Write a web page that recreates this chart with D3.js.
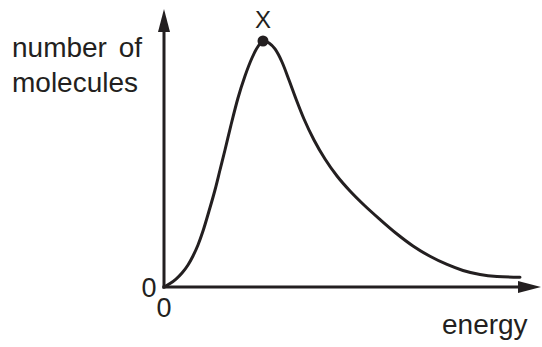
<!DOCTYPE html>
<html>
<head>
<meta charset="utf-8">
<script src="https://cdn.jsdelivr.net/npm/d3@7"></script>
<style>
    body { margin: 0; background: #fff; }
    text { font-family: "Liberation Sans", Arial, Helvetica, sans-serif; fill: #231f20; }
</style>
</head>
<body>
<div id="chart"></div>
<script>
// values (energy vs number of molecules, peak = 100)
const energy    = [0, 1.6, 3.19, 4.79, 6.38, 7.71, 9.04, 10.37, 11.97, 13.56, 14.89, 16.22, 17.82, 19.68, 21.54, 23.4, 25, 26.33,
                   27.93, 29.52, 31.38, 33.24, 35.11, 37.23, 39.89, 42.82, 46.01, 49.47, 53.19, 57.45, 61.97, 66.22, 70.74, 75.27, 79.52, 84.04, 88.56, 94.68];
const molecules = [0, 1.42, 3.25, 5.69, 8.94, 12.6, 17.07, 22.76, 30.89, 39.43, 47.56, 55.69, 65.85, 76.83, 85.77, 93.09, 97.76, 100,
                   99.19, 96.75, 91.46, 84.15, 76.42, 68.29, 59.76, 52.03, 45.12, 39.02, 33.33, 27.44, 21.54, 16.67, 12.48, 9.15, 6.71, 5.08, 4.27, 3.94];
const peak = {energy: 26.33, molecules: 100, label: "X"};
const originLabels = ["0", "0"];
const yLabel = ["number of", "molecules"];
const xLabel = "energy";

const frame_width = 542;
const frame_height = 347;
const ink = "#231f20";

const FRAME = d3.select("#chart")
    .append("svg")
        .attr("width", frame_width)
        .attr("height", frame_height);

// scales
const X_SCALE = d3.scaleLinear().domain([0, 100]).range([164, 540]);
const Y_SCALE = d3.scaleLinear().domain([0, 100]).range([287, 41]);

const x0 = X_SCALE(0), y0 = Y_SCALE(0);

// y axis with arrow
FRAME.append("line")
    .attr("x1", x0).attr("y1", y0 + 1.5)
    .attr("x2", x0).attr("y2", 28)
    .attr("stroke", ink).attr("stroke-width", 3);
FRAME.append("path")
    .attr("d", d3.line()([[x0, 9], [x0 - 6, 32], [x0 + 6, 32]]) + "Z")
    .attr("fill", ink);

// x axis with arrow
FRAME.append("line")
    .attr("x1", x0 - 1.5).attr("y1", y0)
    .attr("x2", 524).attr("y2", y0)
    .attr("stroke", ink).attr("stroke-width", 3);
FRAME.append("path")
    .attr("d", d3.line()([[541, y0], [518, y0 - 6], [518, y0 + 6]]) + "Z")
    .attr("fill", ink);

// the distribution curve
const curve = d3.line()
    .x((d, i) => X_SCALE(energy[i]))
    .y((d, i) => Y_SCALE(molecules[i]))
    .curve(d3.curveMonotoneX);

FRAME.append("path")
    .datum(energy)
    .attr("d", curve)
    .attr("fill", "none")
    .attr("stroke", ink)
    .attr("stroke-width", 3)
    .attr("stroke-linecap", "round");

// peak dot and label
FRAME.append("circle")
    .attr("cx", X_SCALE(peak.energy))
    .attr("cy", Y_SCALE(peak.molecules))
    .attr("r", 5.5)
    .attr("fill", ink);
FRAME.append("text")
    .attr("x", X_SCALE(peak.energy))
    .attr("y", 28)
    .attr("text-anchor", "middle")
    .attr("font-size", "24px")
    .text(peak.label);

// origin zeros
FRAME.append("text")
    .attr("x", 149).attr("y", 297)
    .attr("text-anchor", "middle")
    .attr("font-size", "27px")
    .text(originLabels[0]);
FRAME.append("text")
    .attr("x", x0).attr("y", 317)
    .attr("text-anchor", "middle")
    .attr("font-size", "27px")
    .text(originLabels[1]);

// axis titles
FRAME.selectAll(".ylab")
    .data(yLabel)
    .enter()
    .append("text")
        .attr("class", "ylab")
        .attr("x", 12)
        .attr("y", (d, i) => 57 + i * 35)
        .attr("font-size", "28px")
        .attr("word-spacing", "4px")
        .text(d => d);

FRAME.append("text")
    .attr("x", 442).attr("y", 334)
    .attr("font-size", "28px")
    .text(xLabel);
</script>
</body>
</html>
